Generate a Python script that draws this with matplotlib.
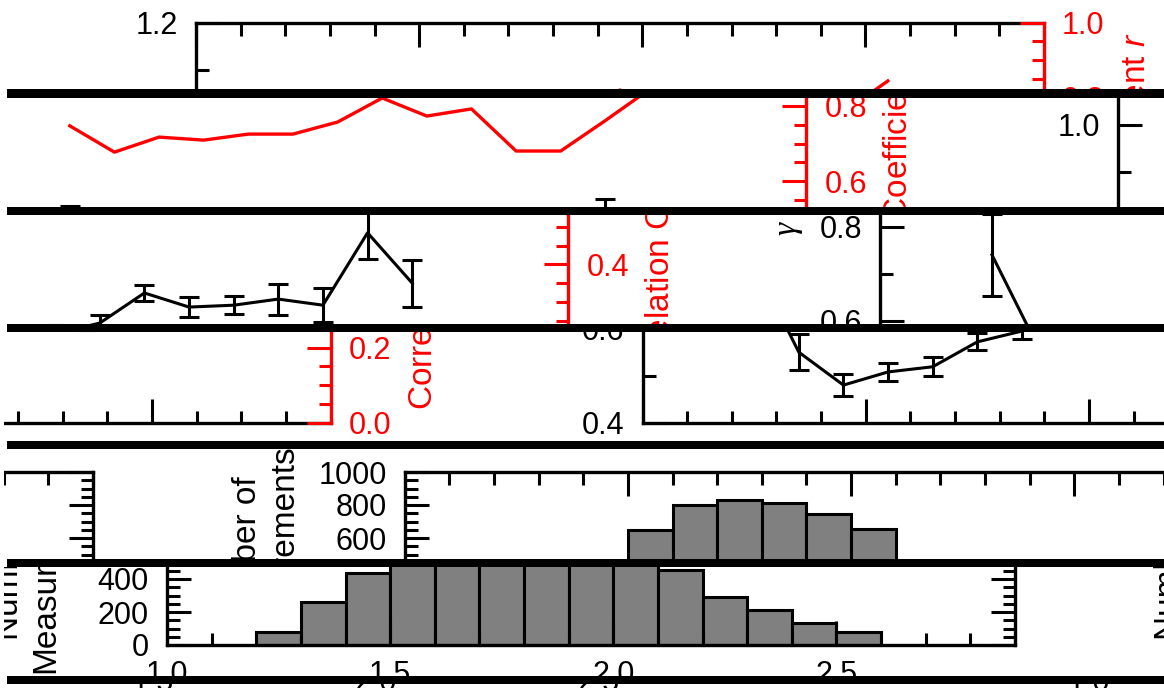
import matplotlib
matplotlib.use("Agg")
import matplotlib.pyplot as plt
from matplotlib.patches import Rectangle
from matplotlib.ticker import MultipleLocator, FormatStrFormatter
from matplotlib.transforms import Bbox, TransformedBbox

plt.rcParams['font.family'] = ['Liberation Sans', 'DejaVu Sans']
plt.rcParams['mathtext.fontset'] = 'custom'
plt.rcParams['mathtext.rm'] = 'Liberation Sans'
plt.rcParams['mathtext.it'] = 'Liberation Sans:italic'

# data
bin_centers = [1.25, 1.35, 1.45, 1.55, 1.65, 1.75, 1.85, 1.95, 2.05, 2.15, 2.25, 2.35, 2.45, 2.55]
gamma = [0.740, 0.550, 0.480, 0.508, 0.519, 0.572, 0.595, 0.659, 0.629, 0.633, 0.646, 0.633, 0.787, 0.680]
gamma_err = [0.088, 0.038, 0.024, 0.020, 0.020, 0.018, 0.017, 0.018, 0.022, 0.019, 0.033, 0.036, 0.055, 0.050]
corr_r = [0.747, 0.677, 0.717, 0.709, 0.725, 0.725, 0.757, 0.821, 0.773, 0.792, 0.680, 0.680, 0.761, 0.845]
counts = [79, 261, 436, 648, 800, 830, 812, 745, 655, 455, 291, 212, 133, 79]

# page geometry (pixels): the figure is cut in strips, each one rolled sideways
W, H = 1164, 688
PERIOD = 1160
X_LEFT = 4
LINE_LEFT = 7
LINE_W = 8
line_centers = [93.5, 210.8, 328.1, 445.4, 562.7, 680.0]
band_shift = -237.8
TOP_BOX = (196, 22.7, 1044, 398.7)   # left, top, right, bottom
BOT_BOX = (196, 440, 1044, 605)

TICK_FS = 22
LABEL_FS = 24
LW = 2.2

fig = plt.figure(figsize=(W / 100, H / 100), dpi=100)


def px_axes(box, dx, dy):
    l, t, r, b = box
    ax = fig.add_axes([(l + dx) / W, 1 - (b + dy) / H, (r - l) / W, (b - t) / H])
    ax.patch.set_visible(False)
    return ax


def style_ticks(ax, axis, color='black', **kw):
    ax.tick_params(axis=axis, which='both', direction='in', width=LW,
                   color=color, labelcolor=color, **kw)
    ax.tick_params(axis=axis, which='major', length=17, pad=13, labelsize=TICK_FS)
    ax.tick_params(axis=axis, which='minor', length=9)


def top_panel(ax):
    ax.errorbar(bin_centers, gamma, yerr=gamma_err, color='black', lw=LW,
                elinewidth=LW, capsize=7.5, capthick=LW)
    ax.set_xlim(1.0, 2.9)
    ax.set_ylim(0.4, 1.2)
    ax.xaxis.set_major_locator(MultipleLocator(0.5))
    ax.xaxis.set_minor_locator(MultipleLocator(0.1))
    ax.yaxis.set_major_locator(MultipleLocator(0.2))
    ax.yaxis.set_minor_locator(MultipleLocator(0.1))
    ax.yaxis.set_major_formatter(FormatStrFormatter('%.1f'))
    style_ticks(ax, 'x', top=True, bottom=True, labelbottom=False)
    style_ticks(ax, 'y', left=True, right=False)
    for sp in ax.spines.values():
        sp.set_linewidth(2.4)
    ax.spines['right'].set_visible(False)
    ax.set_ylabel('γ', family='Liberation Serif', style='italic', fontsize=LABEL_FS)
    ax.yaxis.set_label_coords(-0.092, 0.496)

    axr = ax.twinx()
    axr.patch.set_visible(False)
    axr.plot(bin_centers, corr_r, color='red', lw=2.4)
    axr.set_ylim(0, 1)
    axr.yaxis.set_major_locator(MultipleLocator(0.2))
    axr.yaxis.set_minor_locator(MultipleLocator(0.05))
    axr.yaxis.set_major_formatter(FormatStrFormatter('%.1f'))
    style_ticks(axr, 'y', color='red', left=False, right=True)
    for side in ('left', 'top', 'bottom'):
        axr.spines[side].set_visible(False)
    axr.spines['right'].set_color('red')
    axr.spines['right'].set_linewidth(2.4)
    axr.set_ylabel('Correlation Coefficient $r$', color='red', fontsize=LABEL_FS)
    axr.yaxis.set_label_coords(1.0908, 0.505)
    return [ax, axr]


def bottom_panel(ax):
    ax.bar(bin_centers, counts, width=0.1, color='#808080', edgecolor='black', linewidth=LW)
    ax.set_xlim(1.0, 2.9)
    ax.set_ylim(0, 1000)
    ax.xaxis.set_major_locator(MultipleLocator(0.5))
    ax.xaxis.set_minor_locator(MultipleLocator(0.1))
    ax.yaxis.set_major_locator(MultipleLocator(200))
    ax.yaxis.set_minor_locator(MultipleLocator(50))
    ax.xaxis.set_major_formatter(FormatStrFormatter('%.1f'))
    style_ticks(ax, 'x', top=True, bottom=True)
    ax.tick_params(axis='x', which='major', pad=11)
    style_ticks(ax, 'y', left=True, right=True)
    for sp in ax.spines.values():
        sp.set_linewidth(2.4)
    ax.set_ylabel('Number of\nMeasurements', fontsize=LABEL_FS)
    ax.yaxis.set_label_coords(-0.125, 0.5)
    return [ax]


clip_jobs = []
n_bands = len(line_centers) + 1
for k in range(n_bands):
    top = 0 if k == 0 else line_centers[k - 1] + LINE_W / 2
    bottom = H if k == n_bands - 1 else line_centers[k] - LINE_W / 2
    dy = LINE_W * k
    s = (band_shift * k) % PERIOD
    clip = TransformedBbox(Bbox.from_extents(X_LEFT / W, 1 - bottom / H,
                                             (X_LEFT + PERIOD) / W, 1 - top / H),
                           fig.transFigure)
    for dx in (s, s - PERIOD):
        axes = top_panel(px_axes(TOP_BOX, dx, dy)) + bottom_panel(px_axes(BOT_BOX, dx, dy))
        clip_jobs += [(a, clip) for a in axes]

for c in line_centers:
    fig.add_artist(Rectangle((LINE_LEFT / W, 1 - (c + LINE_W / 2) / H),
                             (W - LINE_LEFT) / W, LINE_W / H, transform=fig.transFigure,
                             facecolor='black', edgecolor='none', zorder=10))

fig.canvas.draw()
for ax, clip in clip_jobs:
    for art in ax.findobj():
        art.set_clip_box(clip)
        art.set_clip_on(True)

fig.savefig('out.png', dpi=100)
